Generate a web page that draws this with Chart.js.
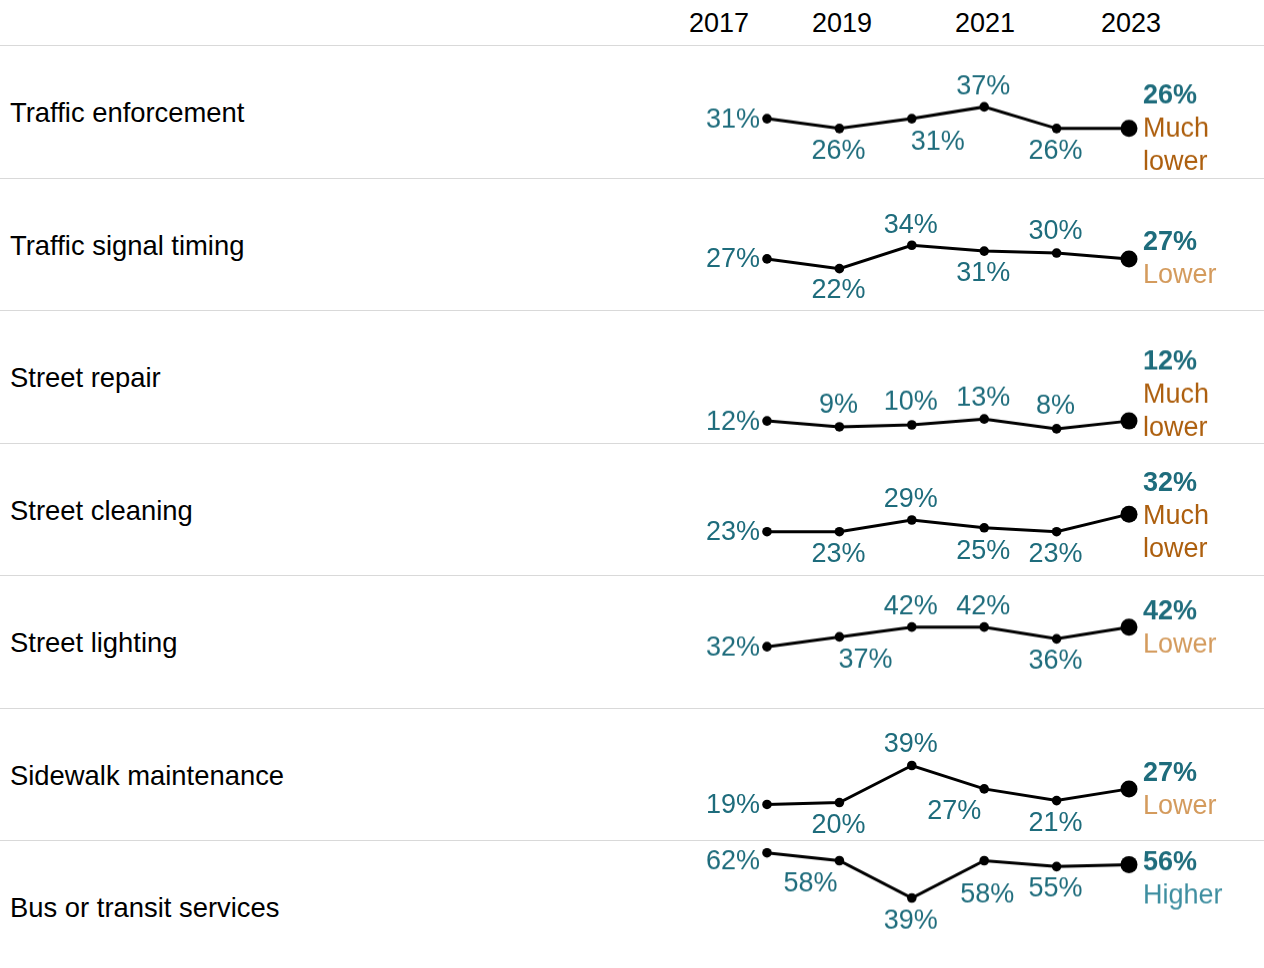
<!DOCTYPE html>
<html>
<head>
<meta charset="utf-8">
<script src="https://cdn.jsdelivr.net/npm/chart.js@4/dist/chart.umd.min.js"></script>
<style>
  html, body { margin: 0; padding: 0; background: #fff; }
  body { width: 1264px; height: 968px; overflow: hidden; position: relative;
         font-family: "Liberation Sans", Arial, Helvetica, sans-serif; }
  .hdr { position: absolute; top: 23px; transform: translate(-50%, -50%); font-size: 27px; color: #000; white-space: nowrap; }
  .sep { position: absolute; left: 0; width: 1264px; height: 0; border-top: 1.5px solid #d9d9d9; }
  .rowlab { position: absolute; left: 10px; width: 660px; display: flex; align-items: center; font-size: 27.4px; color: #000; white-space: nowrap; padding-top: 2px; box-sizing: border-box; }
  .cv { position: absolute; left: 0; width: 1264px; }
</style>
</head>
<body>
<script>
// ---------- DATA ----------
const years = ['2017', '2019', '2020', '2021', '2022', '2023'];
const headerTicks = ['2017', '2019', '2021', '2023'];
const rowLabels = [
  'Traffic enforcement',
  'Traffic signal timing',
  'Street repair',
  'Street cleaning',
  'Street lighting',
  'Sidewalk maintenance',
  'Bus or transit services'
];
const trafficEnforcement  = [31, 26, 31, 37, 26, 26];
const trafficSignalTiming = [27, 22, 34, 31, 30, 27];
const streetRepair        = [12, 9, 10, 13, 8, 12];
const streetCleaning      = [23, 23, 29, 25, 23, 32];
const streetLighting      = [32, 37, 42, 42, 36, 42];
const sidewalkMaintenance = [19, 20, 39, 27, 21, 27];
const busTransit          = [62, 58, 39, 58, 55, 56];
const ratings = ['Much lower', 'Lower', 'Much lower', 'Much lower', 'Lower', 'Lower', 'Higher'];

const seriesList = [trafficEnforcement, trafficSignalTiming, streetRepair, streetCleaning,
                    streetLighting, sidewalkMaintenance, busTransit];

// ---------- STYLE / LAYOUT ----------
const TOP = 46, ROW_H = 132.5;
const FONT = '"Liberation Sans", Arial, Helvetica, sans-serif';
const TEAL = '#1e6c7c';
const ratingColors = { 'Much lower': '#ad5f0e', 'Lower': '#d49b5d', 'Higher': '#3e8ea0' };
const headerX = [719, 842, 985, 1131];
// label offsets (dx, dy) relative to point for points 1..5; first is left-anchored
const labelOffsets = [
  [[-7, 0], [-1, 22], [26, 22], [-1, -21], [-1, 22]],
  [[-7, 0], [-1, 21], [-1, -21], [-1, 21], [-1, -22]],
  [[-7, 0], [-1, -22], [-1, -23], [-1, -22], [-1, -23]],
  [[-7, 0], [-1, 22], [-1, -21], [-1, 23], [-1, 22]],
  [[-7, 0], [26, 22], [-1, -21], [-1, -21], [-1, 21]],
  [[-7, 0], [-1, 22], [-1, -22], [-30, 22], [-1, 22]],
  [[-7, 8], [-29, 22], [-1, 22], [3, 33], [-1, 21]]
];
const endFirstDy = [-33, -17, -60, -32, -16, -16, -3];
const LINE_GAP = 33;

// header
headerTicks.forEach((t, i) => {
  const s = document.createElement('div');
  s.className = 'hdr';
  s.style.left = headerX[i] + 'px';
  s.textContent = t;
  document.body.appendChild(s);
});

// separators
for (let i = 0; i < 7; i++) {
  const d = document.createElement('div');
  d.className = 'sep';
  d.style.top = (TOP + i * ROW_H - 0.75) + 'px';
  document.body.appendChild(d);
}

const labelPlugin = {
  id: 'pointLabels',
  afterDatasetsDraw(chart) {
    const idx = chart.options.plugins.pointLabels.row;
    const ctx = chart.ctx;
    const meta = chart.getDatasetMeta(0);
    const vals = chart.data.datasets[0].data;
    ctx.save();
    ctx.textBaseline = 'middle';
    ctx.font = '27px ' + FONT;
    ctx.fillStyle = TEAL;
    for (let i = 0; i < vals.length - 1; i++) {
      const p = meta.data[i];
      const off = labelOffsets[idx][i];
      ctx.textAlign = i === 0 ? 'right' : 'center';
      ctx.fillText(vals[i] + '%', p.x + off[0], p.y + off[1] + 1);
    }
    const last = meta.data[vals.length - 1];
    const x = last.x + 14;
    let y = last.y + endFirstDy[idx] + 1;
    ctx.textAlign = 'left';
    ctx.font = 'bold 27px ' + FONT;
    ctx.fillText(vals[vals.length - 1] + '%', x, y);
    ctx.font = '27px ' + FONT;
    ctx.fillStyle = ratingColors[ratings[idx]];
    ratings[idx].split(' ').forEach(w => {
      y += LINE_GAP;
      ctx.fillText(w, x, y);
    });
    ctx.restore();
  }
};

seriesList.forEach((vals, idx) => {
  const top = TOP + idx * ROW_H;
  const lab = document.createElement('div');
  lab.className = 'rowlab';
  lab.style.top = top + 'px';
  lab.style.height = ROW_H + 'px';
  lab.textContent = rowLabels[idx];
  document.body.appendChild(lab);

  const wrap = document.createElement('div');
  wrap.className = 'cv';
  wrap.style.top = top + 'px';
  wrap.style.height = ROW_H + 'px';
  const cv = document.createElement('canvas');
  wrap.appendChild(cv);
  document.body.appendChild(wrap);

  new Chart(cv, {
    type: 'line',
    data: {
      labels: years,
      datasets: [{
        data: vals,
        borderColor: '#000',
        borderWidth: 3,
        backgroundColor: '#000',
        pointBackgroundColor: '#000',
        pointBorderWidth: 0,
        pointRadius: vals.map((v, i) => i === vals.length - 1 ? 8.5 : 4.8),
        tension: 0,
        clip: false
      }]
    },
    options: {
      responsive: true,
      maintainAspectRatio: false,
      animation: false,
      events: [],
      layout: { autoPadding: false, padding: { left: 767, right: 135, top: 0, bottom: 0 } },
      scales: {
        x: { type: 'category', display: false, offset: false },
        y: { display: false, min: 0, max: 68 }
      },
      plugins: {
        legend: { display: false },
        tooltip: { enabled: false },
        pointLabels: { row: idx }
      }
    },
    plugins: [labelPlugin]
  });
});
</script>
</body>
</html>
